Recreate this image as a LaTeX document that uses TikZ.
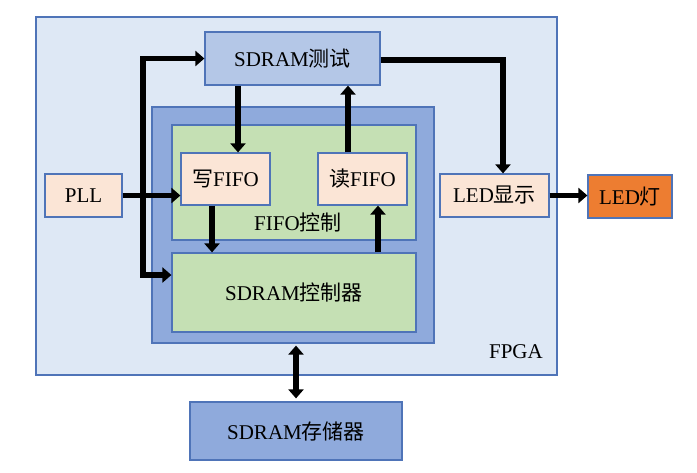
\documentclass[tikz,border=0pt]{standalone}
\usepackage{fontspec}
\setmainfont{Liberation Serif}
\newfontfamily\cjk{Noto Sans CJK SC}
\usepackage{tikz}
\usetikzlibrary{arrows.meta, positioning, calc}
\definecolor{fpgabg}{HTML}{DEE8F5}
\definecolor{boxline}{HTML}{4F74B8}
\definecolor{testbg}{HTML}{B4C7E7}
\definecolor{wrapbg}{HTML}{8FAADC}
\definecolor{greenbg}{HTML}{C5E0B4}
\definecolor{peachbg}{HTML}{FBE5D6}
\definecolor{lampbg}{HTML}{ED7D31}

\begin{document}
\begin{tikzpicture}[x=1pt, y=-1pt,
		box/.style={draw=boxline, line width=1.2pt, inner sep=0pt, font=\fontsize{21}{24}\selectfont},
		lbl/.style={inner sep=0pt, font=\fontsize{21}{24}\selectfont},
		arr/.style={line width=5.5pt, -{Triangle[length=9pt,width=15pt]}},
		darr/.style={line width=5.5pt, {Triangle[length=9pt,width=15pt]}-{Triangle[length=9pt,width=15pt]}}]
		\useasboundingbox (0,0) rectangle (697,472);
		
		% Containers
		\node[box, fill=fpgabg, minimum width=521pt, minimum height=358pt] (fpga) at (296.5,196) {};
		\node[box, fill=wrapbg, minimum width=282pt, minimum height=236pt] (wrap) at (293,225) {};
		\node[box, fill=greenbg, minimum width=244pt, minimum height=115pt] (fifo) at (294,182.5) {};
		
		% Blocks
		\node[box, fill=testbg, minimum width=175pt, minimum height=53pt] (test) at (292.5,58.5) {SDRAM{\cjk 测试}};
		\node[box, fill=peachbg, minimum width=89pt, minimum height=52pt] (wfifo) at (225.5,179) {{\cjk 写}FIFO};
		\node[box, fill=peachbg, minimum width=89pt, minimum height=52pt] (rfifo) at (362.5,179) {{\cjk 读}FIFO};
		\node[box, fill=greenbg, minimum width=244pt, minimum height=79pt] (sdctrl) at (294,292.5) {SDRAM{\cjk 控制器}};
		\node[box, fill=peachbg, minimum width=77pt, minimum height=43pt] (pll) at (83.5,195.5) {PLL};
		\node[box, fill=peachbg, minimum width=109pt, minimum height=43pt] (show) at (494.5,195.5) {LED{\cjk 显示}};
		\node[box, fill=lampbg, minimum width=84pt, minimum height=43pt] (lamp) at (630,196.5) {LED{\cjk 灯}};
		\node[box, fill=wrapbg, minimum width=212pt, minimum height=58pt] (mem) at (296,431) {SDRAM{\cjk 存储器}};
		
		% Labels
		\node[lbl] (fifolbl) at (298,222) {FIFO{\cjk 控制}};
		\node[lbl, anchor=east] (fpgalbl) at (543,352) {FPGA};
		
		% Clock bus
		\coordinate (bus) at (143,196);
		\draw[arr] (pll.east) -- (pll.east -| wfifo.west);
		\draw[arr] (bus) |- (test.west);
		\draw[arr] (bus) |- ([yshift=17.5pt]sdctrl.west);
		
		% Data paths
		\draw[arr] ([xshift=12.5pt]wfifo.north |- test.south) -- ([xshift=12.5pt]wfifo.north);
		\draw[arr] ([xshift=-13.5pt]wfifo.south) -- ([xshift=-13.5pt]wfifo.south |- sdctrl.north);
		\draw[arr] ([xshift=15.5pt]rfifo.south |- sdctrl.north) -- ([xshift=15.5pt]rfifo.south);
		\draw[arr] ([xshift=-14.5pt]rfifo.north) -- ([xshift=-14.5pt]rfifo.north |- test.south);
		\draw[arr] ([yshift=-1.5pt]test.east) -| ([xshift=8.5pt]show.north);
		\draw[arr] (show.east) -- (show.east -| lamp.west);
		\draw[darr, shorten <=2pt, shorten >=3pt] (mem.north |- wrap.south) -- (mem.north);
	\end{tikzpicture}
\end{document}
